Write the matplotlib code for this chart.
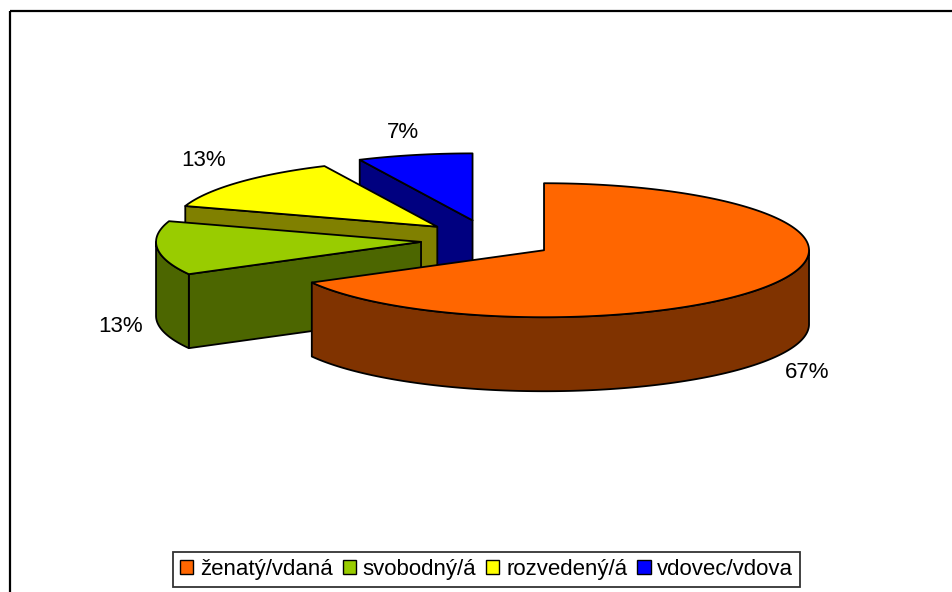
import numpy as np
import matplotlib
matplotlib.use("Agg")
import matplotlib.pyplot as plt
from matplotlib.patches import Polygon, Rectangle, Patch

plt.rcParams['font.family'] = ['Liberation Sans', 'DejaVu Sans']

# ---- data ----
categories = ['ženatý/vdaná', 'svobodný/á', 'rozvedený/á', 'vdovec/vdova']
values = [67, 13, 13, 7]
pct_labels = ['67%', '13%', '13%', '7%']
top_colors = ['#FF6600', '#99CC00', '#FFFF00', '#0000FF']
side_colors = ['#803300', '#4C6600', '#808000', '#000080']

# ---- layout (pixel space) ----
W, H = 952, 592
CX, CY = 487, 240          # pie centre
RX, RY = 265, 67           # projected radii
DEPTH = 74                 # thickness
EXPLODE_X, EXPLODE_Y = 0.25, 0.30
START = 90.0               # first slice starts at 12 o'clock, clockwise
label_pos = [(807, 372), (121, 326), (204, 160), (403, 133)]

fig = plt.figure(figsize=(W / 100, H / 100), dpi=100)
ax = fig.add_axes([0, 0, 1, 1])
ax.set_xlim(0, W)
ax.set_ylim(H, 0)
ax.axis('off')

# outer frame
ax.add_patch(Rectangle((9.5, 10.5), 960, 600, fill=False, edgecolor='black', lw=1.6, zorder=0))

total = float(sum(values))
angles = []
a = START
for v in values:
    span = 360.0 * v / total
    angles.append((a - span, a))  # ccw interval [a0, a1]
    a -= span


def pt(ox, oy, th, dz=0.0):
    t = np.deg2rad(th)
    return (ox + RX * np.cos(t), oy - RY * np.sin(t) + dz)


def arc(ox, oy, t0, t1, dz=0.0):
    n = max(2, int(abs(t1 - t0)) + 2)
    return [pt(ox, oy, t, dz) for t in np.linspace(t0, t1, n)]


edge_kw = dict(edgecolor='black', lw=1.3, joinstyle='round')
order = [3, 2, 1, 0]  # back slices first
z = 1
for i in order:
    a0, a1 = angles[i]
    mid = np.deg2rad((a0 + a1) / 2)
    ox = CX + EXPLODE_X * RX * np.cos(mid)
    oy = CY - EXPLODE_Y * RY * np.sin(mid)
    apex = (ox, oy)
    # radial faces that face the viewer
    for edge, vis in ((a0, np.cos(np.deg2rad(a0)) > 1e-9), (a1, np.cos(np.deg2rad(a1)) < -1e-9)):
        if vis:
            p = pt(ox, oy, edge)
            poly = [apex, p, (p[0], p[1] + DEPTH), (ox, oy + DEPTH)]
            ax.add_patch(Polygon(poly, closed=True, facecolor=side_colors[i], zorder=z, **edge_kw))
            z += 1
    # outer wall (front half only)
    for k in (-1, 0, 1):
        lo = max(a0, -180 + 360 * k)
        hi = min(a1, 360 * k)
        if lo < hi:
            poly = arc(ox, oy, lo, hi) + arc(ox, oy, hi, lo, DEPTH)
            ax.add_patch(Polygon(poly, closed=True, facecolor=side_colors[i], zorder=z, **edge_kw))
            z += 1
    # top face
    poly = [apex] + arc(ox, oy, a0, a1)
    ax.add_patch(Polygon(poly, closed=True, facecolor=top_colors[i], zorder=z, **edge_kw))
    z += 1

for i, (x, y) in enumerate(label_pos):
    ax.text(x, y, pct_labels[i], fontsize=16, ha='center', va='center', color='black')

handles = [Patch(facecolor=c, edgecolor='black', lw=1.0) for c in top_colors]
leg = fig.legend(handles, categories, loc='center', bbox_to_anchor=(486.5 / W, 1 - 569.5 / H),
                 ncol=4, fontsize=16, frameon=True, fancybox=False, edgecolor='black',
                 handlelength=0.6, handleheight=0.6, handletextpad=0.3, columnspacing=0.45,
                 borderpad=0.3, borderaxespad=0)
leg.get_frame().set_linewidth(1.3)

fig.savefig('out.png', dpi=100, facecolor='white')
